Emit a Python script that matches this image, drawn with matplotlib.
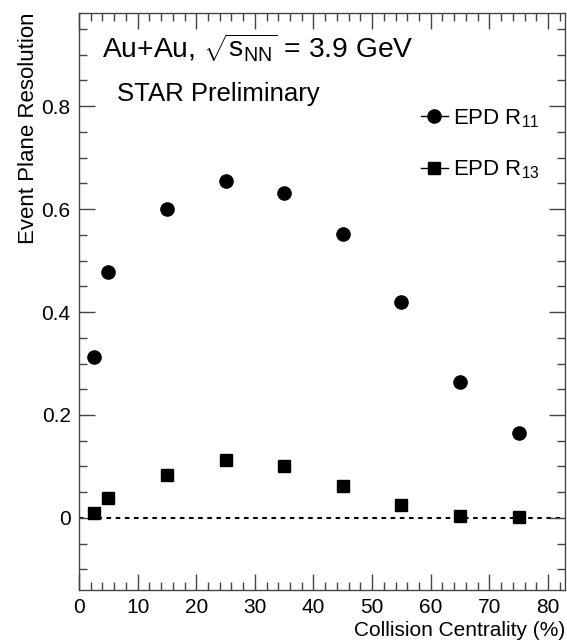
import numpy as np
import matplotlib
matplotlib.use("Agg")
import matplotlib.pyplot as plt
from matplotlib.ticker import MultipleLocator

plt.rcParams['font.family'] = ['Liberation Sans', 'DejaVu Sans']
plt.rcParams['mathtext.fontset'] = 'custom'
plt.rcParams['mathtext.rm'] = 'Liberation Sans'
plt.rcParams['mathtext.it'] = 'Liberation Sans'

# data
centrality = [2.5, 5, 15, 25, 35, 45, 55, 65, 75]
r11 = [0.313, 0.478, 0.600, 0.654, 0.631, 0.551, 0.419, 0.264, 0.165]
r13 = [0.010, 0.039, 0.083, 0.113, 0.101, 0.062, 0.025, 0.004, 0.001]

fig = plt.figure(figsize=(5.67, 6.40), dpi=100)
ax = fig.add_axes([79/567, 1-590/640, (565-79)/567, (590-13)/640])

ax.axhline(0, color='black', lw=1.5, ls=(0, (2.2, 2.2)), zorder=1)
ax.plot(centrality, r11, 'o', color='black', ms=9.5, label=r'EPD R$_{11}$', zorder=3)
ax.plot(centrality, r13, 's', color='black', ms=9, label=r'EPD R$_{13}$', zorder=3)

ax.set_xlim(0, 82.9)
ax.set_ylim(-0.14, 0.981)
ax.xaxis.set_major_locator(MultipleLocator(10))
ax.xaxis.set_minor_locator(MultipleLocator(2))
ax.yaxis.set_major_locator(MultipleLocator(0.2))
ax.yaxis.set_minor_locator(MultipleLocator(0.05))
ax.set_yticks([0, 0.2, 0.4, 0.6, 0.8])
ax.set_yticklabels(['0', '0.2', '0.4', '0.6', '0.8'])
ax.tick_params(which='both', direction='in', top=True, right=True,
               labelsize=15, color='#444444', width=1)
ax.tick_params(which='major', length=11.5, pad=6)
ax.tick_params(which='minor', length=5.5)
for s in ax.spines.values():
    s.set_color('#444444')
    s.set_linewidth(1)

ax.set_xlabel('Collision Centrality (%)', fontsize=15, loc='right', labelpad=3)
ax.set_ylabel('Event Plane Resolution', fontsize=16, loc='top', labelpad=2)

ax.text(102/567, 1-57/640, r'Au+Au, $\sqrt{s_{\rm NN}}$ = 3.9 GeV', fontsize=20.3,
        transform=fig.transFigure, va='baseline', ha='left')
ax.text(117/567, 1-101/640, 'STAR Preliminary', fontsize=18.5,
        transform=fig.transFigure, va='baseline', ha='left')

leg = ax.legend(loc='upper left', bbox_to_anchor=(410/567, 1-96/640),
                bbox_transform=fig.transFigure, frameon=False, fontsize=16,
                handlelength=1.2, handletextpad=0.25, labelspacing=1.3,
                borderpad=0)
for h in leg.legend_handles:
    h.set_linestyle('-')
    h.set_linewidth(1)

fig.savefig('out.png', dpi=100)
